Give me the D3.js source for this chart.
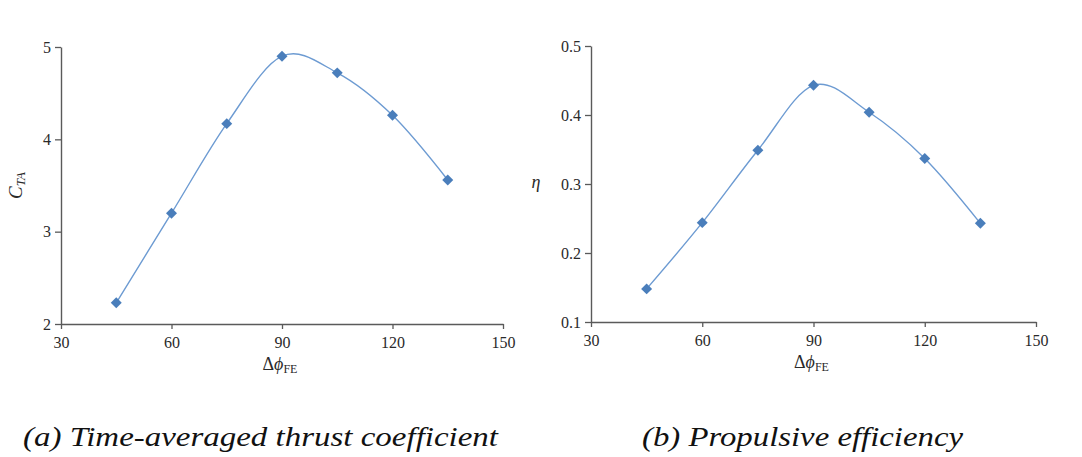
<!DOCTYPE html>
<html>
<head>
<meta charset="utf-8">
<script src="https://cdn.jsdelivr.net/npm/d3@7/dist/d3.min.js"></script>
<style>
  html, body { margin: 0; padding: 0; background: #fff; }
  svg { display: block; }
  svg text { font-family: "Liberation Serif", "Times New Roman", serif; }
</style>
</head>
<body>
<svg id="chart" width="1082" height="457"></svg>
<script>
// ===== Data =====
const phaseDiff = [45, 60, 75, 90, 105, 120, 135];
const thrustCoef = [2.23, 3.20, 4.17, 4.90, 4.72, 4.26, 3.56];
const efficiency = [0.148, 0.244, 0.349, 0.443, 0.404, 0.337, 0.243];
const xTicks = [30, 60, 90, 120, 150];
const thrustTicks = [2, 3, 4, 5];
const effTicks = [0.1, 0.2, 0.3, 0.4, 0.5];
const captions = ["(a) Time-averaged thrust coefficient", "(b) Propulsive efficiency"];

// ===== Style =====
const cAxis = "#5a5a5a";
const cTick = "#2a2a2a";
const cLine = "#6d9bd2";
const cMark = "#4a7ebb";
const serif = '"Liberation Serif", "Times New Roman", serif';

const svg = d3.select("#chart");

function drawPanel(opts) {
  const { left, right, top, bottom, yDomain, yTicks, yFmt, values, yLabel } = opts;
  const g = svg.append("g");

  const x = d3.scaleLinear().domain([30, 150]).range([left, right]);
  const y = d3.scaleLinear().domain(yDomain).range([bottom, top]);

  // axes
  const xAxis = d3.axisBottom(x).tickValues(xTicks).tickSize(5).tickSizeOuter(0).tickPadding(4);
  const yAxis = d3.axisLeft(y).tickValues(yTicks).tickFormat(yFmt).tickSize(6).tickSizeOuter(0).tickPadding(4);

  const gx = g.append("g").attr("transform", `translate(0,${bottom})`).call(xAxis);
  const gy = g.append("g").attr("transform", `translate(${left},0)`).call(yAxis);
  [gx, gy].forEach(a => {
    a.attr("font-family", null).attr("font-size", null);
    a.select(".domain").attr("stroke", cAxis).attr("stroke-width", 1.4);
    a.selectAll(".tick line").attr("stroke", cAxis).attr("stroke-width", 1.3);
    a.selectAll(".tick text").attr("fill", cTick)
      .style("font-family", serif).style("font-size", "16px");
  });
  gx.selectAll(".tick text").attr("dy", "0.95em");

  // curve
  const pts = phaseDiff.map((d, i) => [d, values[i]]);
  const line = d3.line().x(d => x(d[0])).y(d => y(d[1])).curve(d3.curveCardinal.tension(0));
  g.append("path").datum(pts).attr("d", line)
    .attr("fill", "none").attr("stroke", cLine).attr("stroke-width", 1.4);

  // markers
  g.selectAll("path.mark").data(pts).join("path").attr("class", "mark")
    .attr("d", d3.symbol(d3.symbolSquare, 60)())
    .attr("transform", d => `translate(${x(d[0])},${y(d[1])}) rotate(45)`)
    .attr("fill", cMark);

  // x label
  const xl = g.append("text")
    .attr("x", (left + right) / 2 - 2).attr("y", bottom + 46)
    .attr("text-anchor", "middle").style("font-size", "18px").attr("fill", cTick);
  xl.append("tspan").text("Δ");
  xl.append("tspan").attr("font-style", "italic").text("ϕ");
  xl.append("tspan").style("font-size", "12px").attr("dy", 3).text("FE");

  yLabel(g, top, bottom);
}

// (a)
drawPanel({
  left: 61, right: 503, top: 47, bottom: 324,
  yDomain: [2, 5], yTicks: thrustTicks, yFmt: d3.format("d"),
  values: thrustCoef,
  yLabel: (g, top, bottom) => {
    const t = g.append("text")
      .attr("transform", `translate(22,${(top + bottom) / 2}) rotate(-90)`)
      .attr("text-anchor", "middle").attr("fill", cTick)
      .style("font-size", "19px").attr("font-style", "italic");
    t.append("tspan").text("C");
    t.append("tspan").style("font-size", "13px").attr("dy", 3).text("TA");
  }
});

// (b)
drawPanel({
  left: 591, right: 1036, top: 46, bottom: 322,
  yDomain: [0.1, 0.5], yTicks: effTicks, yFmt: d3.format(".1f"),
  values: efficiency,
  yLabel: (g, top, bottom) => {
    g.append("text")
      .attr("x", 536).attr("y", (top + bottom) / 2 + 4)
      .attr("text-anchor", "middle").attr("fill", cTick)
      .style("font-size", "18px").attr("font-style", "italic").text("η");
  }
});

// captions
const capX = [[23, 498], [642, 963]];
svg.selectAll("text.caption").data(captions).join("text").attr("class", "caption")
  .attr("x", (d, i) => capX[i][0]).attr("y", 446)
  .attr("textLength", (d, i) => capX[i][1] - capX[i][0]).attr("lengthAdjust", "spacingAndGlyphs")
  .style("font-family", serif).style("font-size", "28px").attr("font-style", "italic")
  .attr("fill", "#111").text(d => d);
</script>
</body>
</html>
